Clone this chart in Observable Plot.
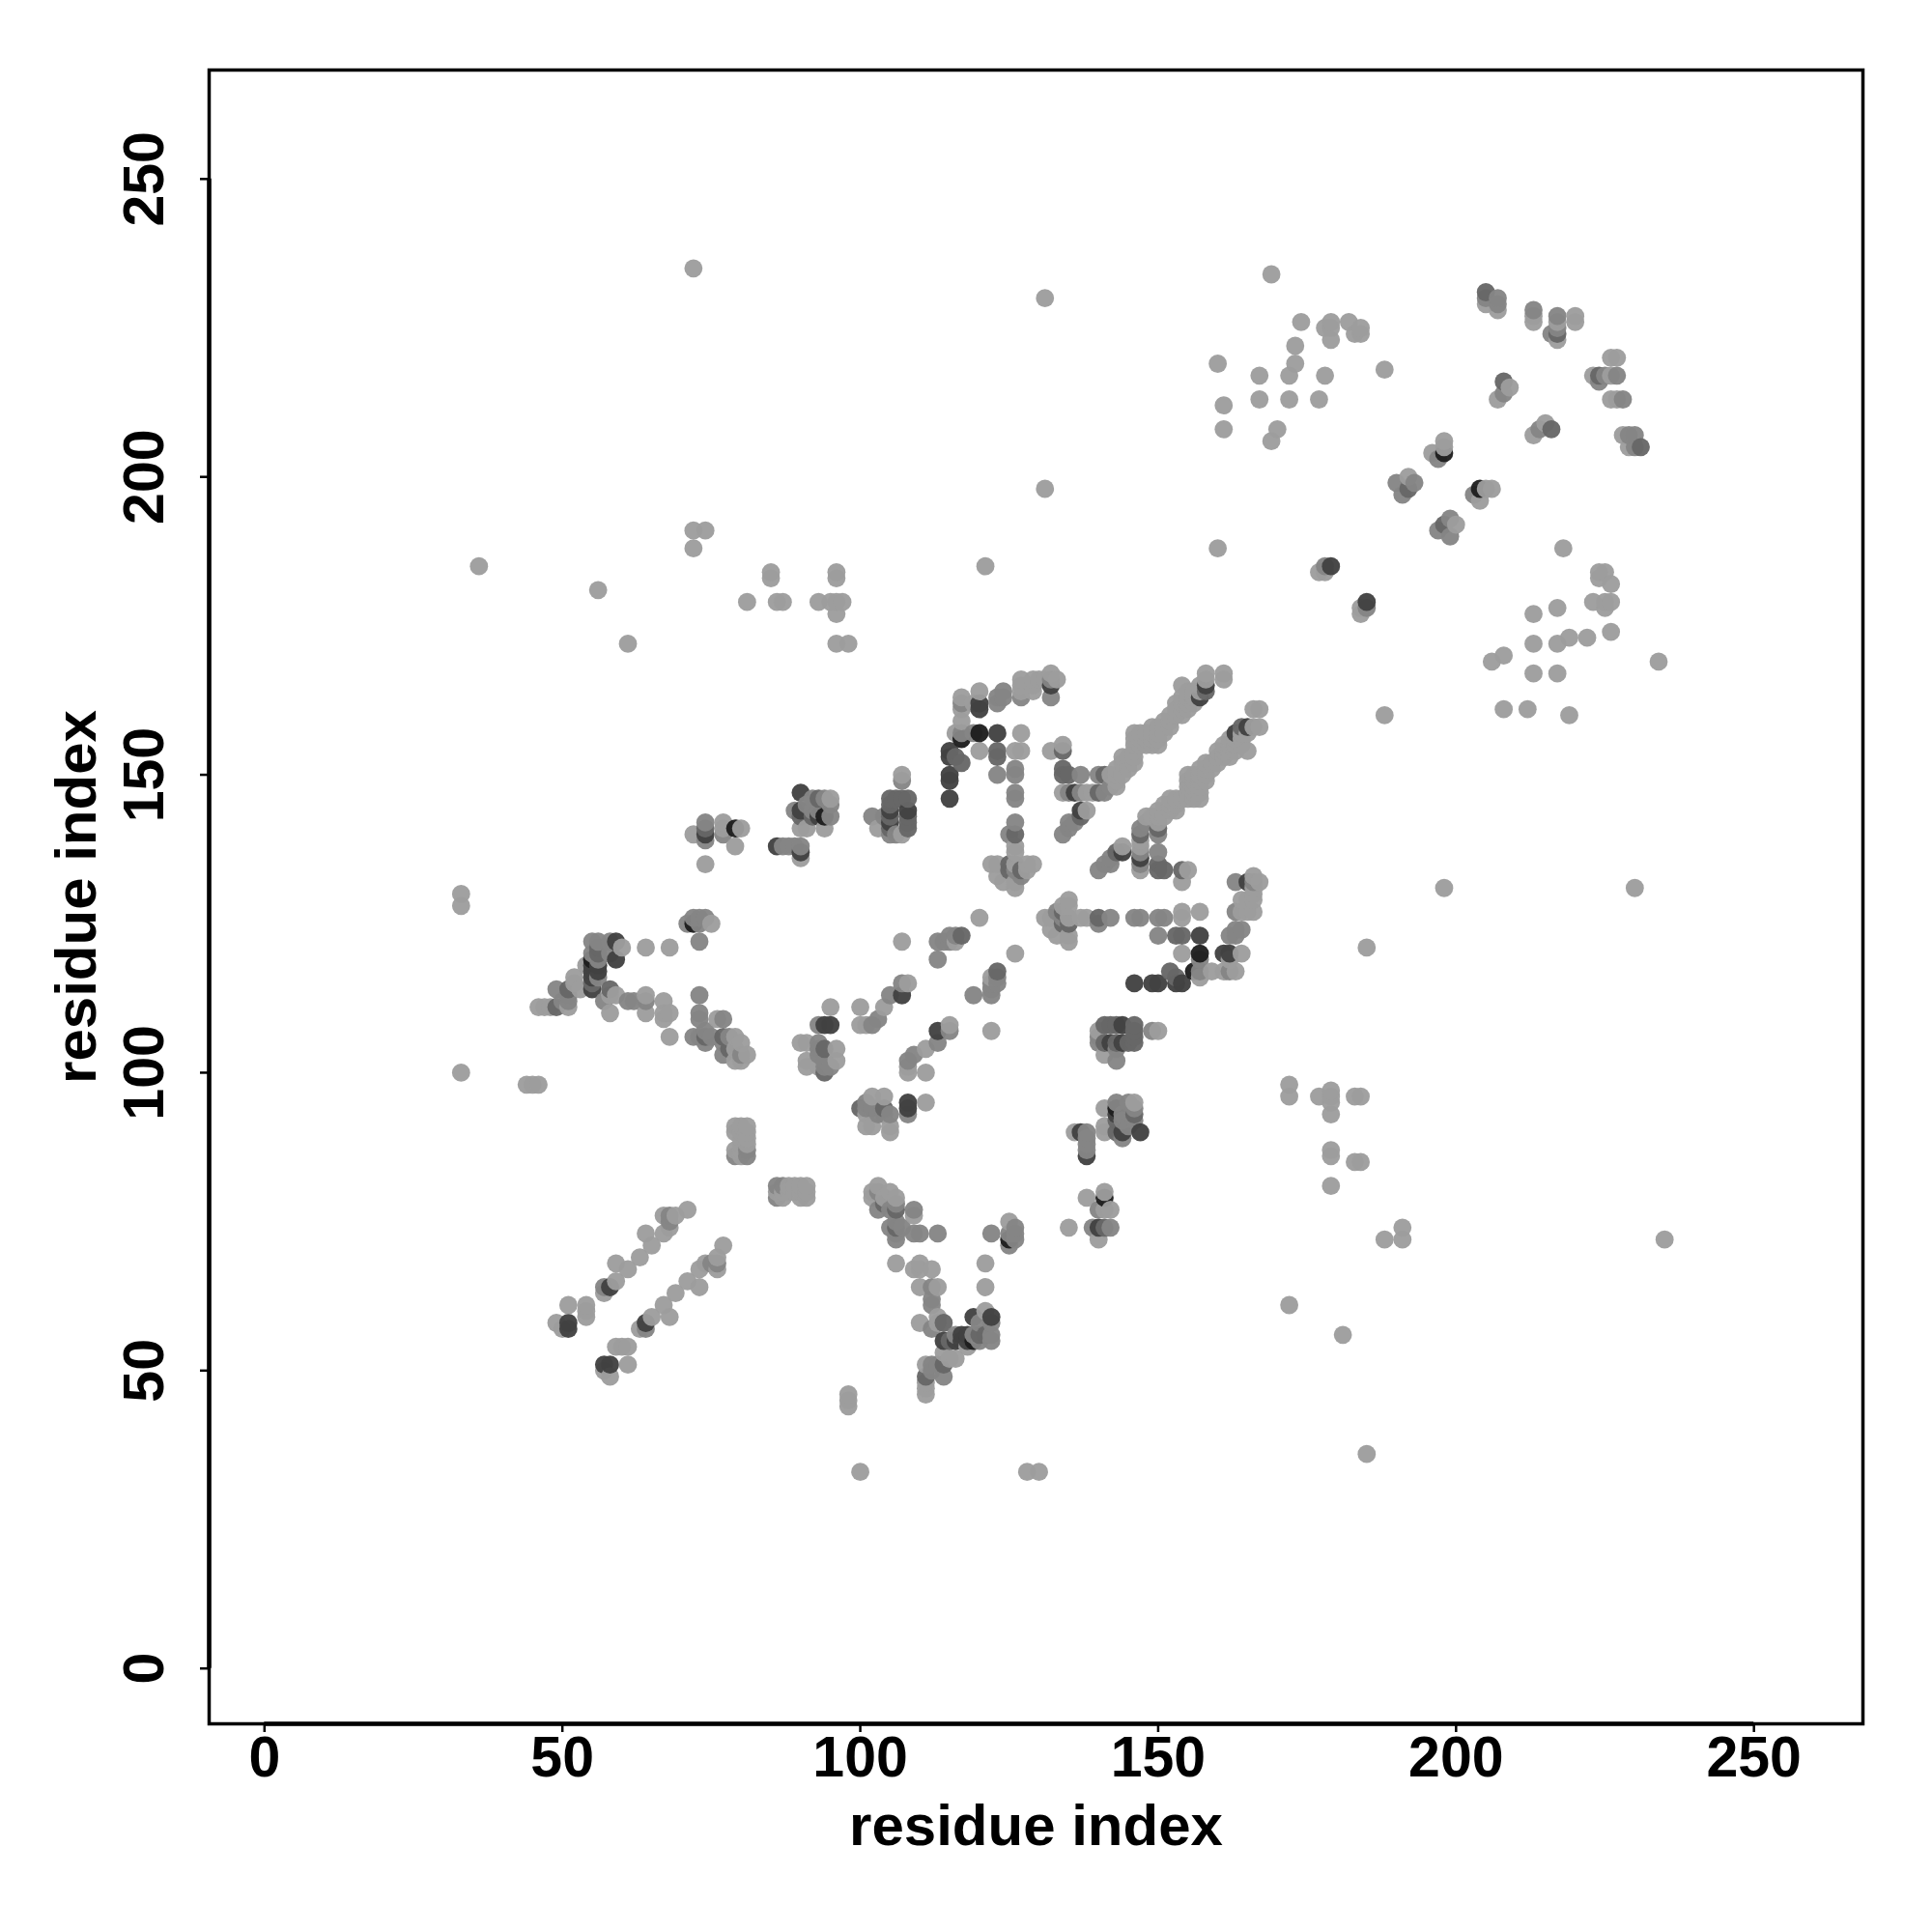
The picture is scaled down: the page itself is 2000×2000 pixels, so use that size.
<!DOCTYPE html>
<html>
<head>
<meta charset="utf-8">
<script src="https://cdn.jsdelivr.net/npm/d3@7"></script>
<script src="https://cdn.jsdelivr.net/npm/@observablehq/plot@0.6"></script>
<style>html,body{margin:0;padding:0;background:#fff}svg{display:block}</style>
</head>
<body>
<div id="chart"></div>
<script>
// Residue pairs; the map is symmetric, so each pair is drawn with its mirror.
const contactsLevel1 = [
[72,235],[131,230],[131,198],[72,191],[74,191],[72,188],[36,185],[56,181],[61,172],[85,184],[85,183],[81,179],[86,179],[87,179],
[96,184],[96,183],[93,179],[95,179],[96,179],[97,179],[96,177],[96,172],[98,172],[121,185],[160,188],[33,130],[33,128],[33,100],
[44,98],[45,98],[46,98],[169,234],[174,226],[178,225],[179,226],[179,225],[179,223],[182,226],[183,224],[184,225],[184,224],
[173,222],[173,219],[160,219],[167,217],[172,217],[178,217],[167,213],[172,213],[177,213],[161,212],[161,208],[170,208],[169,206],
[188,218],[198,206],[198,205],[196,204],[192,200],[205,229],[207,228],[213,227],[213,226],[217,226],[217,223],[220,227],[220,226],
[209,215],[207,213],[177,184],[178,184],[184,177],
[54,59],[54,60],[54,61],[51,61],[49,58],[50,57],[57,63],[59,68],[61,67],[63,69],[64,73],[65,71],[67,73],[67,76],[71,77],[69,76],[68,74],[59,65],
[79,91],[79,90],[80,91],[80,90],[80,89],[80,88],[81,91],[81,90],[81,89],[81,88],[79,87],[80,87],[80,86],
[46,111],[47,111],[48,111],[51,111],[52,116],[52,115],[53,114],[54,118],[58,110],[60,121],[58,113],[59,113],
[64,113],[64,110],[67,112],[67,110],[67,109],[68,110],[68,106],[64,121],[68,121],[75,125],[76,109],[79,106],[80,105],[81,103],[79,104],[79,102],[80,102],
[72,140],[77,142],[77,141],[80,141],[79,138],[74,135],[90,136],[91,141],[90,141],[94,141],[95,146],[103,141],[107,140],[107,150],
[90,105],[91,105],[91,101],[95,111],[93,101],[96,104],[96,102],[91,102],[100,111],[100,108],[101,108],[104,111],[108,115],
[107,122],[120,126],[116,122],
[117,161],[117,163],[119,162],[120,164],[124,164],[127,166],[127,165],[129,166],[129,165],[129,164],[130,166],[131,166],[133,166],[132,167],[120,154],[126,154],[127,157],[127,154],[126,147],[117,159],[116,157],
[123,133],[123,135],[124,132],[126,132],[126,135],[126,138],[126,137],[128,135],[129,135],[128,134],[122,135],[126,131],
[132,154],[134,151],[137,150],[140,150],[143,151],[144,150],[134,147],[138,147],[142,148],[143,149],[138,144],[134,140],[135,141],
[146,153],[146,154],[147,155],[148,155],[148,156],[147,157],[149,156],[149,157],[150,157],[150,156],[151,157],[151,158],[152,158],[152,159],[153,160],[153,161],[154,160],[154,161],[155,161],[155,162],[156,162],[156,163],[154,165],[154,163],[155,164],[161,167],[158,167],[158,166],[157,164],
[143,150],[145,152],[145,151],[144,152],[150,155],[146,156],[149,155],[142,150],[156,164],[154,162],
[146,157],[148,157],[147,156],[146,155],[145,153],[144,153],[150,158],[149,158],[152,160],[151,159],[153,162],[155,163],[157,165],
[139,147],[143,148],[150,143],[151,143],
[164,127],[166,127],[165,127],[164,129],[166,129],[134,155],[144,138],[142,136],[147,134],[154,132],[155,134],
[161,166],[165,154],[163,154],[167,161],[167,158],[165,157],[163,157],[157,147],[154,146],[152,146]
];

const contactsLevel2 = [
[190,199],[193,199],[191,197],[197,203],[205,230],[207,230],[207,229],[213,228],[217,227],[217,225],[216,224],[208,214],[178,185],
[57,64],[68,75],[68,76],[51,112],[51,113],[50,112],[49,114],[55,120],[55,122],[56,122],[58,120],[61,112],[62,112],[64,112],[57,112],
[58,122],[72,126],[73,126],[74,126],[71,125],[73,125],[73,122],[73,113],[73,110],[73,109],[77,109],[72,106],[73,106],[74,107],[74,105],[75,106],[78,106],[77,105],[77,103],[80,103],
[74,142],[74,139],[77,140],[87,138],[88,138],[89,138],[90,138],[89,144],[91,145],[92,146],[92,144],[93,144],[94,146],[95,145],[95,143],[102,143],[104,143],[105,140],[106,140],
[81,86],[81,87],[79,86],[93,108],[93,105],[93,104],[93,103],[94,102],[94,101],[95,101],[103,109],[102,108],[105,113],[107,149],[107,115],
[113,119],[113,122],[114,122],[115,122],[115,123],[116,123],[56,116],[56,119],
[117,162],[123,162],[123,163],[124,163],[127,163],[132,163],[132,166],[126,151],[126,150],[123,150],[117,157],[119,157],[125,140],[126,142],[127,133],[126,134],[135,147],[135,142],[136,142],[141,147],
[162,123],[163,123],[164,124],[147,137],[147,140],[148,142],[150,140],[150,137],[140,134],[141,135],[146,126],[147,126],[150,126],[151,126]
];

const contactsLevel3 = [
[192,198],[205,231],[217,224],[208,216],
[51,114],[49,111],[55,115],[58,114],[77,106],[78,104],[74,106],[56,120],[56,121],
[74,141],[90,143],[92,143],[93,146],[105,141],[108,141],[108,142],
[105,146],[105,145],[105,143],[106,146],[107,146],[108,146],[108,143],[94,104],[94,100],
[126,140],[125,135],[125,134],[127,134],[134,154],[137,143],[140,147],[135,150],
[117,123],[123,153],[123,154],[117,152],[116,153],[150,134],[151,134],[158,164],
[134,150],[141,150]
];

const contactsLevel4 = [
[51,57],[51,58],[59,122],[59,119],[58,64],[55,114],[55,116],[55,117],[56,117],[56,118],[55,118],[74,140],[86,138],[90,137],[90,147],[90,144],
[105,142],[105,144],[108,144],[115,150],[115,146],[115,149],[120,162],[95,108],[107,113],[94,108],[137,144],[157,163],[158,165],[179,185],
[132,165],[120,161],[123,157],[115,153],[115,154],[136,147],[93,143]
];

const contactsLevel5 = [
[55,119],[79,141],[94,143],[198,204],[120,157],[72,125],[117,156]
];

const levelGrays = ["#9d9d9d", "#858585", "#676767", "#424242", "#1e1e1e"];
const tickValues = [0, 50, 100, 150, 200, 250];
const axisDomain = [-9.29, 268.29];
const axisTitle = "residue index";

const contacts = [];
[contactsLevel1, contactsLevel2, contactsLevel3, contactsLevel4, contactsLevel5].forEach((list, i) => {
  for (const [a, b] of list) {
    contacts.push({x: a, y: b, level: i + 1});
    contacts.push({x: b, y: a, level: i + 1});
  }
});
// A darker listing of a pair replaces a lighter one; draw in index order.
const byKey = new Map();
for (const c of contacts) byKey.set(c.x + "_" + c.y, c);
const rows = [...byKey.values()].sort((p, q) => d3.ascending(p.x, q.x) || d3.ascending(p.y, q.y));

const chart = Plot.plot({
  width: 2000,
  height: 2000,
  marginLeft: 216,
  marginRight: 72,
  marginTop: 72,
  marginBottom: 216,
  style: {fontFamily: "'Liberation Sans', Arial, sans-serif", fontWeight: "bold", color: "#000", background: "#fff"},
  x: {domain: axisDomain},
  y: {domain: axisDomain},
  color: {type: "ordinal", domain: [1, 2, 3, 4, 5], range: levelGrays},
  marks: [
    Plot.dot(rows, {x: "x", y: "y", r: 9.4, fill: "level", fillOpacity: 0.96, stroke: "none"}),
    Plot.frame({stroke: "#000", strokeWidth: 3.5}),
    Plot.ruleY([axisDomain[0]], {x1: 0, x2: 250, stroke: "#000", strokeWidth: 4.5}),
    Plot.ruleX([axisDomain[0]], {y1: 0, y2: 250, stroke: "#000", strokeWidth: 4.5}),
    Plot.axisX({ticks: tickValues, tickSize: 9, tickPadding: 4, fontSize: 59, strokeWidth: 2.5, label: null}),
    Plot.axisY({ticks: tickValues, tickSize: 9, tickPadding: 39, fontSize: 59, strokeWidth: 2.5, textAnchor: "middle", tickRotate: -90, label: null}),
    Plot.text([axisTitle], {frameAnchor: "bottom", lineAnchor: "middle", dy: 106, fontSize: 60, fontWeight: "bold", fill: "#000"}),
    Plot.text([axisTitle], {frameAnchor: "left", textAnchor: "middle", lineAnchor: "middle", dx: -137, rotate: -90, fontSize: 60, fontWeight: "bold", fill: "#000"})
  ]
});
document.getElementById("chart").appendChild(chart);
</script>
</body>
</html>
